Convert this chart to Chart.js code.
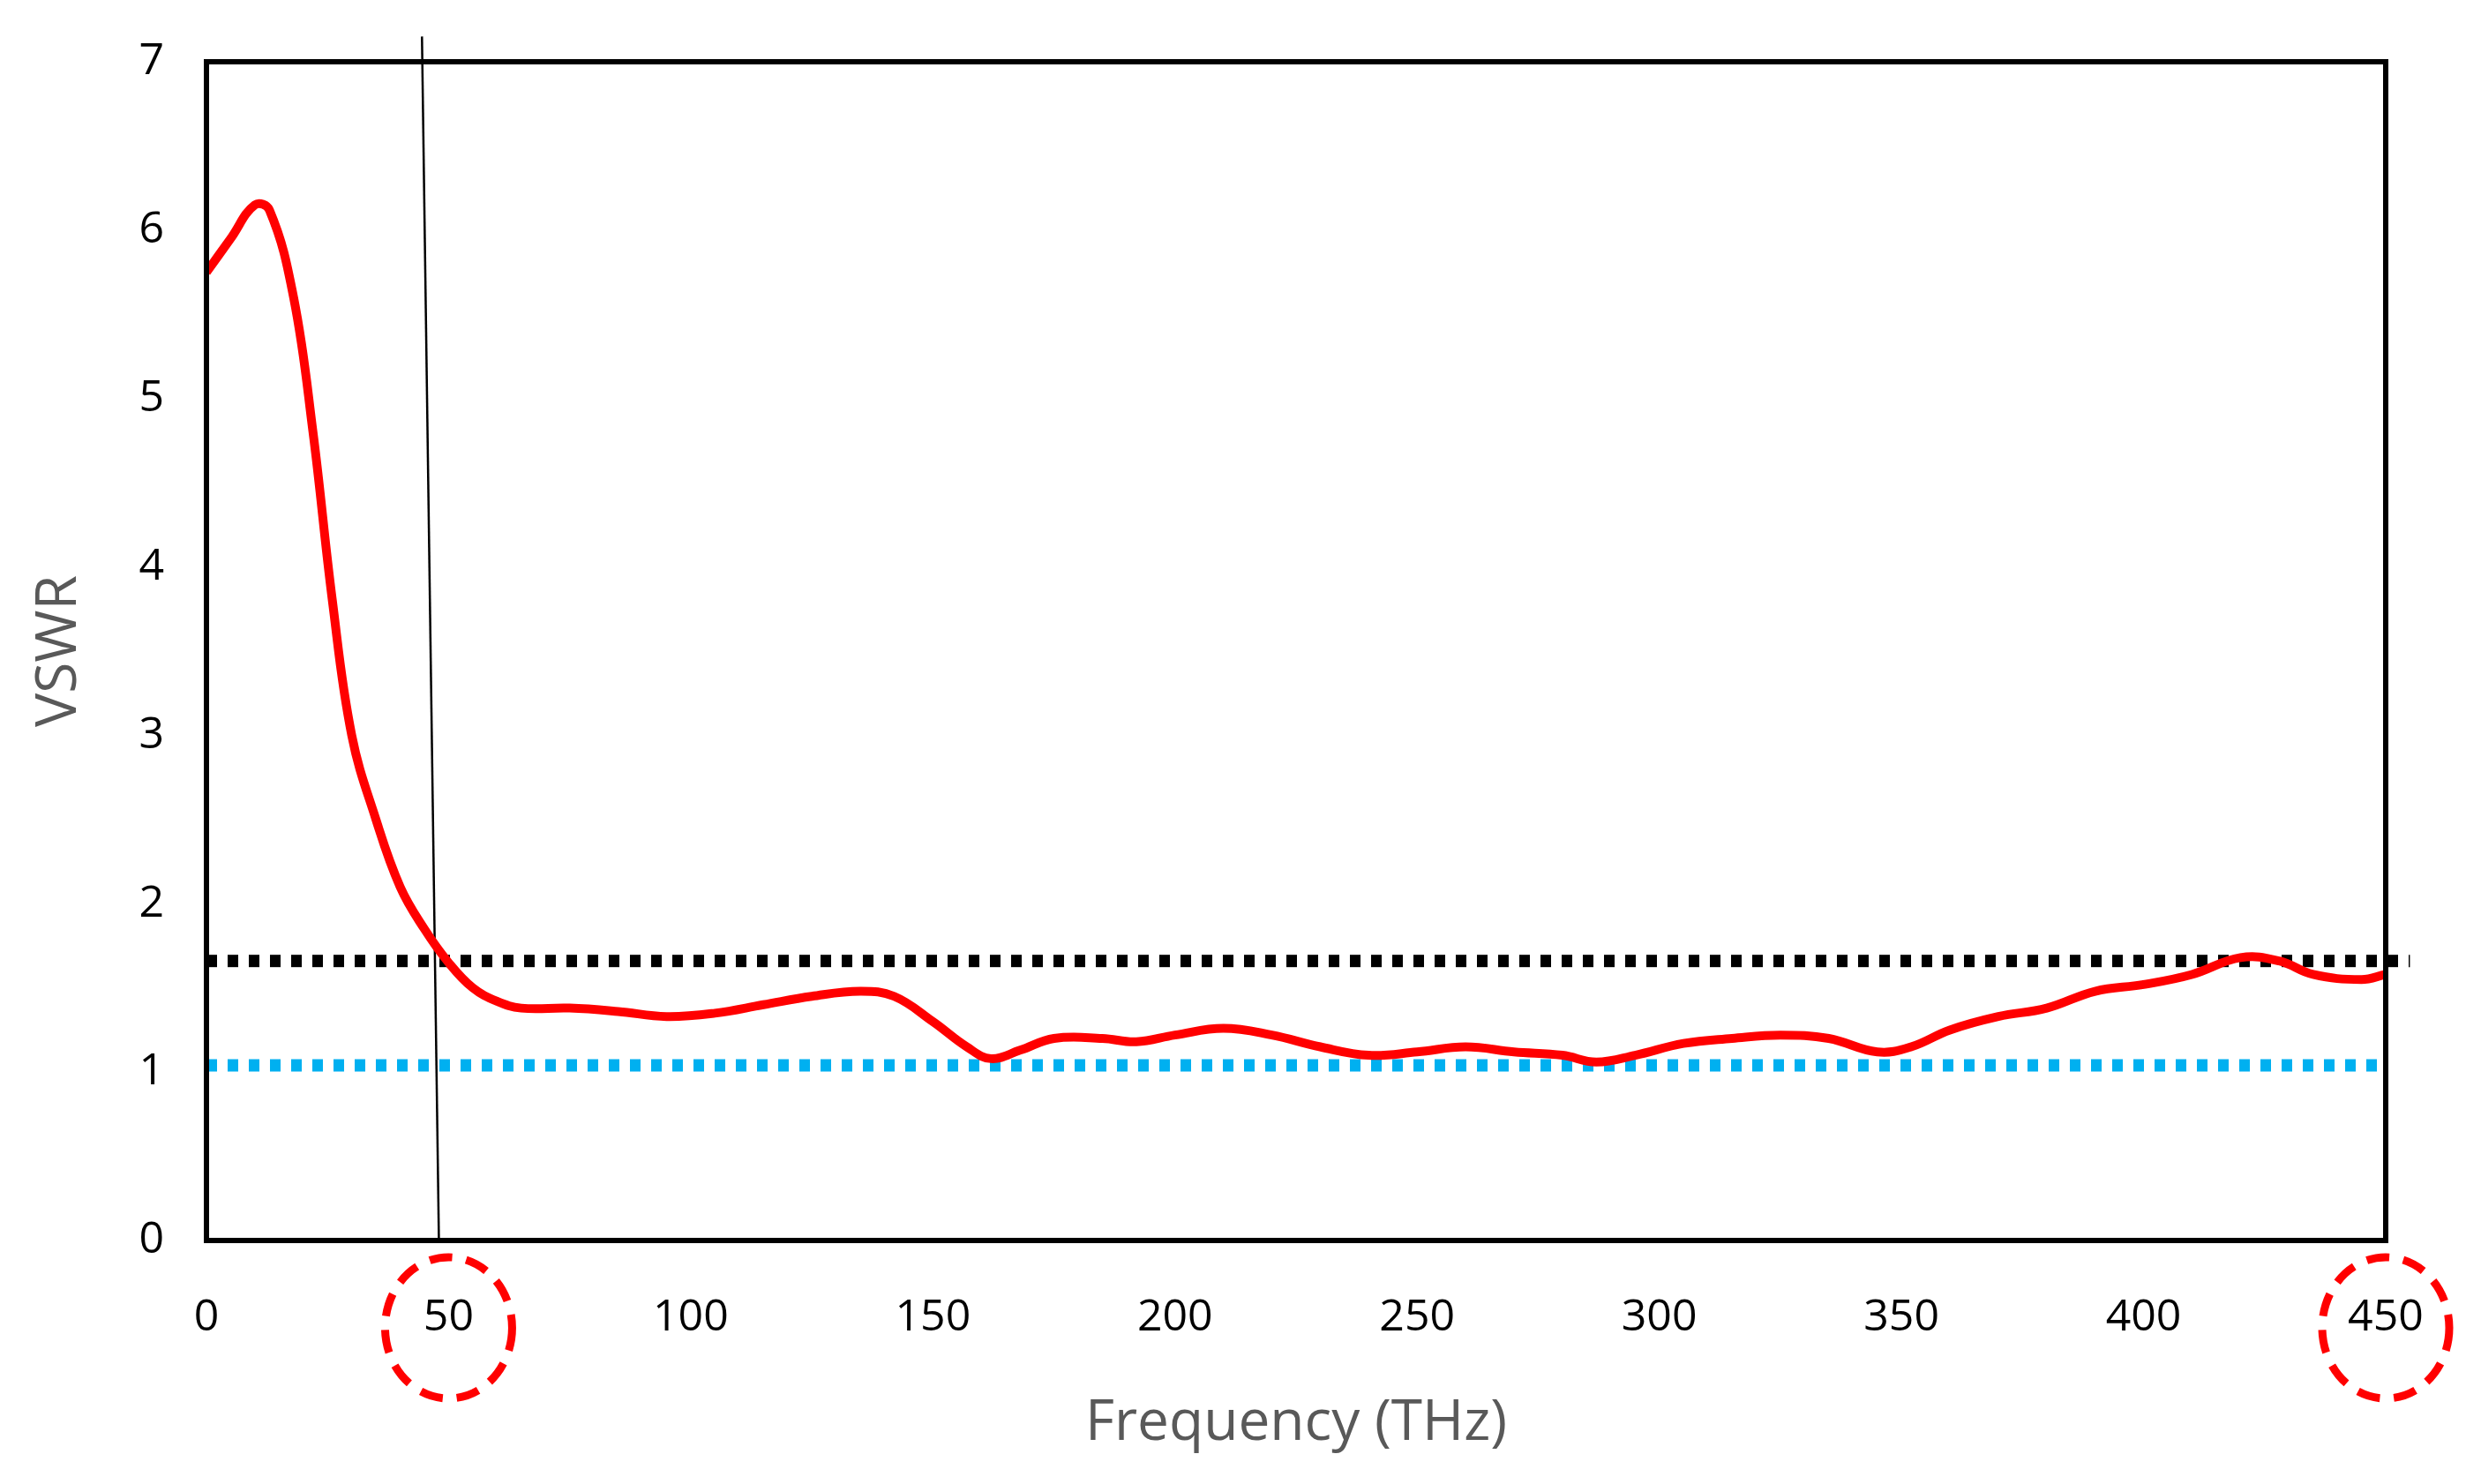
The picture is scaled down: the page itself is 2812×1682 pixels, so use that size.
<!DOCTYPE html>
<html><head><meta charset="utf-8">
<script src="https://cdn.jsdelivr.net/npm/chart.js@4"></script>
<style>html,body{margin:0;background:#fff}#w{width:2812px;height:1682px}</style>
</head><body><div id="w"><canvas id="c"></canvas></div>
<script>
const freq = [0,5,10,13,18,22,26,30,35,40,45,50,55,60,65,75,85,95,105,115,125,135,142,150,157,162,168,175,185,192,200,210,220,230,240,250,260,270,280,287,295,305,315,325,335,345,352,360,370,380,390,400,410,420,428,435,445,450];
const vswr = [5.75,5.95,6.15,6.12,5.6,4.8,3.8,3.0,2.5,2.1,1.85,1.65,1.5,1.42,1.38,1.38,1.36,1.33,1.35,1.4,1.45,1.48,1.45,1.3,1.15,1.08,1.13,1.2,1.2,1.18,1.22,1.26,1.22,1.15,1.1,1.12,1.15,1.12,1.1,1.06,1.1,1.17,1.2,1.22,1.2,1.12,1.15,1.25,1.33,1.38,1.48,1.52,1.58,1.68,1.66,1.58,1.55,1.58];
const blackLevel = 1.66, blueLevel = 1.04;
const vLineX = [44.5, 48], vLineY = [7.15, 0];
const xTicks = [0,50,100,150,200,250,300,350,400,450];
const circled = [50,450];

const circles = {id:'circles', afterDraw(ch){
  const c=ch.ctx, xs=ch.scales.x;
  c.save(); c.strokeStyle='#ff0000'; c.lineWidth=9; c.setLineDash([26,16]);
  circled.forEach(v=>{ const px=xs.getPixelForValue(v);
    c.beginPath(); c.ellipse(px,1505,72,80,0,0,Math.PI*2); c.stroke(); });
  c.restore();
}};
const border = {id:'border', afterDatasetsDraw(ch){
  const a=ch.chartArea,c=ch.ctx; c.save(); c.strokeStyle='#000'; c.lineWidth=6;
  c.strokeRect(a.left,a.top,a.right-a.left,a.bottom-a.top); c.restore();
}};
new Chart(document.getElementById('c'),{
  type:'line',
  data:{datasets:[
    {data:freq.map((f,i)=>({x:f,y:vswr[i]})),borderColor:'#ff0000',borderWidth:10,pointRadius:0,tension:0.4},
    {data:[{x:0,y:blackLevel},{x:455,y:blackLevel}],borderColor:'#000',borderWidth:14,borderDash:[12,12],pointRadius:0,clip:false},
    {data:[{x:0,y:blueLevel},{x:450,y:blueLevel}],borderColor:'#00b0f0',borderWidth:14,borderDash:[12,12],pointRadius:0},
    {data:[{x:vLineX[0],y:vLineY[0]},{x:vLineX[1],y:vLineY[1]}],borderColor:'#000',borderWidth:2.5,pointRadius:0,clip:false}
  ]},
  options:{responsive:true,maintainAspectRatio:false,animation:false,
    layout:{padding:{top:40,right:108,left:25}},
    plugins:{legend:{display:false},tooltip:{enabled:false}},
    scales:{
      x:{type:'linear',min:0,max:450,afterBuildTicks(s){s.ticks=xTicks.map(v=>({value:v}));},
        grid:{display:false},border:{display:false},
        ticks:{color:'#000',font:{family:'Open Sans',size:50},padding:50,maxRotation:0},
        title:{display:true,text:'Frequency (THz)',color:'#595959',font:{family:'Open Sans',size:64},padding:{top:0,bottom:30}},
        afterFit(s){s.height=276;}},
      y:{min:0,max:7,grid:{display:false},border:{display:false},
        ticks:{stepSize:1,color:'#000',font:{family:'Open Sans',size:50},padding:40},
        title:{display:true,text:'VSWR',color:'#595959',font:{family:'Open Sans',size:64}},
        afterFit(s){s.width=209;}}
    }},
  plugins:[border,circles]
});
</script></body></html>
